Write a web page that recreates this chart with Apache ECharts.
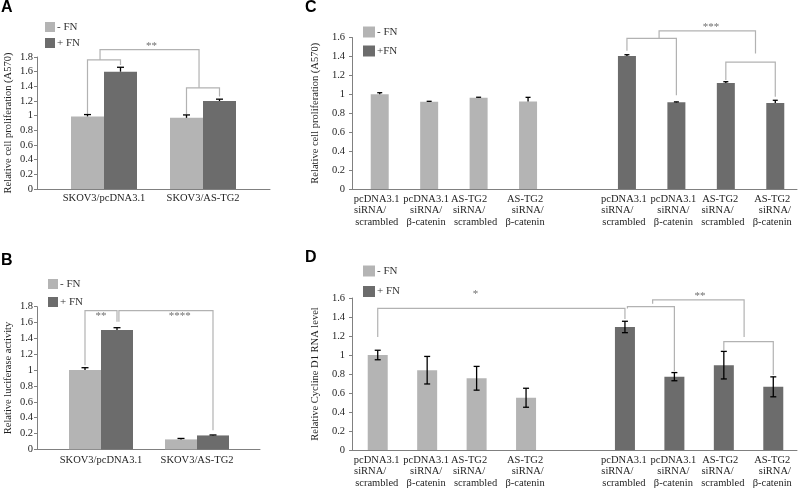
<!DOCTYPE html>
<html><head><meta charset="utf-8">
<script src="https://cdn.jsdelivr.net/npm/echarts@6/dist/echarts.min.js"></script>
<style>html,body{margin:0;padding:0;background:#fff}#c{width:800px;height:489px}</style>
</head><body><div id="c"></div>
<script>
// ---------- data ----------
const fnNames = ['- FN', '+ FN'];
const fnNamesC = ['- FN', '+FN'];
const abCategories = ['SKOV3/pcDNA3.1', 'SKOV3/AS-TG2'];
const aMinusFN = [0.99, 0.97];
const aMinusFNErr = [0.025, 0.04];
const aPlusFN = [1.60, 1.20];
const aPlusFNErr = [0.06, 0.025];
const bMinusFN = [1.00, 0.125];
const bMinusFNErr = [0.03, 0.012];
const bPlusFN = [1.505, 0.175];
const bPlusFNErr = [0.03, 0.006];
const cdCategories = [
  'pcDNA3.1\nsiRNA/     \nscrambled', 'pcDNA3.1\nsiRNA/\nβ-catenin', 'AS-TG2     \nsiRNA/     \nscrambled', 'AS-TG2\n  siRNA/\nβ-catenin', '',
  'pcDNA3.1\nsiRNA/     \nscrambled', 'pcDNA3.1\nsiRNA/\nβ-catenin', 'AS-TG2  \nsiRNA/    \nscrambled', 'AS-TG2\n  siRNA/\nβ-catenin'
];
const cdMinusSlots = [0, 1, 2, 3];
const cdPlusSlots = [5, 6, 7, 8];
const cMinusFN = [1.00, 0.922, 0.965, 0.925];
const cMinusFNErr = [0.017, 0.004, 0.004, 0.043];
const cPlusFN = [1.405, 0.915, 1.12, 0.907];
const cPlusFNErr = [0.013, 0.005, 0.013, 0.03];
const dMinusFN = [1.00, 0.84, 0.755, 0.55];
const dMinusFNErr = [0.05, 0.145, 0.125, 0.10];
const dPlusFN = [1.295, 0.772, 0.893, 0.665];
const dPlusFNErr = [0.06, 0.043, 0.145, 0.105];
const abTicks = [0, 0.2, 0.4, 0.6, 0.8, 1, 1.2, 1.4, 1.6, 1.8];
const cdTicks = [0, 0.2, 0.4, 0.6, 0.8, 1, 1.2, 1.4, 1.6];
// significance brackets: [fromSlot, fromBarSide, fromBottom, top, toSlot, toBarSide, toBottom]
const aBrackets = [[0, -1, 1.01, 1.76, 0, 1, 1.69], [1, -1, 1.02, 1.38, 1, 1, 1.26], [-0.04, 0, 1.76, 1.90, 0.96, 0, 1.38]];
const aSig = [[0.48, 1.98, '**']];
const bBrackets = [[0, -1, 1.06, 1.75, 0, 1, 1.61], [0.02, 1, 1.61, 1.75, 1, 1, 0.24]];
const bSig = [[0.0, 1.71, '**'], [0.82, 1.71, '****']];
const cBrackets = [[5, 0, 1.46, 1.59, 6, 0, 0.99], [7, 0, 1.15, 1.34, 8, 0, 0.975], [5.65, 0, 1.59, 1.67, 7.6, 0, 1.43]];
const cSig = [[6.7, 1.73, '***']];
const dBrackets = [[0, 0, 1.19, 1.49, 5, 0, 1.38], [5.05, 0, 1.49, 1.51, 6, 0, 0.83], [5.56, 0, 1.54, 1.58, 7.41, 0, 1.19], [7, 0, 1.05, 1.14, 8, 0, 0.79]];
const dSig = [[1.98, 1.66, '*'], [6.52, 1.64, '**']];

// ---------- styles ----------
const FONT = 'Liberation Serif';
const LIGHT = '#b4b4b4', DARK = '#6c6c6c';
const AX = '#808080', TXT = '#1e1e1e', BR = '#b2b2b2';

const grids = [], xAxes = [], yAxes = [], series = [], legends = [], titles = [];

function panel(p) {
  const n = p.cats.length;
  const gf = grids.length;
  grids.push({left: p.frame.left, top: p.frame.top, width: p.frame.width, height: p.frame.height});
  const gb = grids.length;
  grids.push({left: p.bars.left, top: p.frame.top, width: p.bars.width, height: p.frame.height});
  const catLabel = {interval: 0, fontFamily: FONT, fontSize: p.catFont, color: TXT, margin: p.catMargin, lineHeight: p.catLine};
  xAxes.push({type: 'category', gridIndex: gf, data: p.labelsOnBars ? p.cats.map(() => '') : p.cats,
    axisLine: {lineStyle: {color: AX, width: 1}}, axisTick: {interval: 0, length: 4, lineStyle: {color: AX}},
    axisLabel: Object.assign({show: !p.labelsOnBars}, catLabel), splitLine: {show: false}});
  const xb = xAxes.length;
  xAxes.push({type: 'category', gridIndex: gb, data: p.cats, axisLine: {show: false}, axisTick: {show: false},
    axisLabel: Object.assign({show: p.labelsOnBars}, catLabel), splitLine: {show: false}});
  const xv = xAxes.length;
  xAxes.push({type: 'value', gridIndex: gb, min: -0.5, max: n - 0.5, show: false});
  const ticks = p.ticks;
  yAxes.push({type: 'value', gridIndex: gf, min: ticks[0], max: ticks[ticks.length - 1], interval: ticks[1] - ticks[0],
    name: p.yName, nameLocation: 'middle', nameGap: p.nameGap, nameRotate: 90,
    nameTextStyle: {fontFamily: FONT, fontSize: 10.5, color: TXT},
    axisLine: {show: true, lineStyle: {color: AX, width: 1}}, axisTick: {show: true, length: 3, lineStyle: {color: AX}},
    axisLabel: {fontFamily: FONT, fontSize: 10.5, color: TXT, margin: p.yMargin, formatter: v => String(+v.toFixed(1))},
    splitLine: {show: false}});
  const yb = yAxes.length;
  yAxes.push({type: 'value', gridIndex: gb, min: ticks[0], max: ticks[ticks.length - 1], interval: ticks[1] - ticks[0], show: false});
  const hw = p.barWidth / 2;
  p.groups.forEach((g, gi) => {
    const full = new Array(n).fill(null);
    g.slots.forEach((s, k) => { full[s] = g.values[k]; });
    series.push({type: 'bar', name: g.name, xAxisIndex: xb, yAxisIndex: yb, data: full, barWidth: p.barWidth,
      barGap: p.side ? '0%' : '-100%', itemStyle: {color: g.color}, silent: true});
    const off = p.side ? (gi === 0 ? -hw : hw) : 0;
    series.push({type: 'custom', xAxisIndex: xv, yAxisIndex: yb, z: 5, silent: true,
      data: g.slots.map((s, k) => [s, g.values[k], g.errs[k]]),
      renderItem: (params, api) => {
        const x = api.value(0), v = api.value(1), e = api.value(2);
        const b = api.coord([x, v]);
        const t = api.coord([x, v + e]);
        const lo = p.errBoth ? api.coord([x, v - e]) : b;
        const cx = b[0] + off;
        const st = {stroke: '#000', lineWidth: 1.3};
        const ch = [
          {type: 'line', shape: {x1: cx, y1: t[1], x2: cx, y2: lo[1]}, style: st},
          {type: 'line', shape: {x1: cx - p.cap / 2, y1: t[1], x2: cx + p.cap / 2, y2: t[1]}, style: st}];
        if (p.errBoth) ch.push({type: 'line', shape: {x1: cx - p.cap / 2, y1: lo[1], x2: cx + p.cap / 2, y2: lo[1]}, style: st});
        return {type: 'group', children: ch};
      }});
  });
  series.push({type: 'custom', xAxisIndex: xv, yAxisIndex: yb, z: 4, silent: true, clip: false,
    data: p.brackets.map(b => [b[0], b[3]]),
    renderItem: (params, api) => {
      const b = p.brackets[params.dataIndex];
      const sw = p.side ? hw : 0;
      const x1 = api.coord([b[0], 0])[0] + b[1] * sw;
      const x2 = api.coord([b[4], 0])[0] + b[5] * sw;
      const y1 = api.coord([0, b[2]])[1], yt = api.coord([0, b[3]])[1], y2 = api.coord([0, b[6]])[1];
      return {type: 'polyline', shape: {points: [[x1, y1], [x1, yt], [x2, yt], [x2, y2]]},
        style: {stroke: BR, lineWidth: 1.2, fill: null}};
    }});
  series.push({type: 'custom', xAxisIndex: xv, yAxisIndex: yb, z: 6, silent: true, clip: false,
    data: p.sig.map(s => [s[0], s[1]]),
    renderItem: (params, api) => {
      const s = p.sig[params.dataIndex];
      const pt = api.coord([s[0], s[1]]);
      return {type: 'text', x: pt[0], y: pt[1] + 2,
        style: {text: s[2], fill: '#6f6f6f', font: '11px "Liberation Serif"', align: 'center', verticalAlign: 'middle'}};
    }});
  legends.push(Object.assign({orient: 'vertical', padding: 0, icon: 'rect', selectedMode: false,
    data: p.groups.map(g => g.name),
    textStyle: {fontFamily: FONT, fontSize: 11, color: '#333', padding: [0, 0, 0, -3]}}, p.legend));
  titles.push({text: p.letter, left: p.letterPos[0], top: p.letterPos[1], padding: 0,
    textStyle: {fontFamily: 'Liberation Sans', fontWeight: 'bold', fontSize: 16, color: '#000'}});
}

panel({letter: 'A', letterPos: [1, 0], cats: abCategories, labelsOnBars: true, side: true, ticks: abTicks,
  frame: {left: 37, top: 57, width: 233, height: 132}, bars: {left: 54.5, width: 198},
  barWidth: 33, cap: 7, errBoth: false, catFont: 10.5, catLine: 12, catMargin: 3, yMargin: 4, nameGap: 23,
  yName: 'Relative cell proliferation (A570)',
  groups: [{name: fnNames[0], color: LIGHT, slots: [0, 1], values: aMinusFN, errs: aMinusFNErr},
           {name: fnNames[1], color: DARK, slots: [0, 1], values: aPlusFN, errs: aPlusFNErr}],
  brackets: aBrackets, sig: aSig,
  legend: {left: 45, top: 21.5, itemWidth: 10, itemHeight: 10, itemGap: 5}});

panel({letter: 'B', letterPos: [1, 253], cats: abCategories, labelsOnBars: true, side: true, ticks: abTicks,
  frame: {left: 37, top: 306.7, width: 223, height: 142.6}, bars: {left: 53, width: 192},
  barWidth: 32, cap: 7, errBoth: false, catFont: 10.5, catLine: 12, catMargin: 5, yMargin: 4, nameGap: 23,
  yName: 'Relative luciferase activity',
  groups: [{name: fnNames[0], color: LIGHT, slots: [0, 1], values: bMinusFN, errs: bMinusFNErr},
           {name: fnNames[1], color: DARK, slots: [0, 1], values: bPlusFN, errs: bPlusFNErr}],
  brackets: bBrackets, sig: bSig,
  legend: {left: 48, top: 278.5, itemWidth: 10, itemHeight: 10, itemGap: 7}});

panel({letter: 'C', letterPos: [305, 0], cats: cdCategories, labelsOnBars: false, side: false, ticks: cdTicks,
  frame: {left: 352, top: 37.5, width: 445, height: 151.5}, bars: {left: 355, width: 445},
  barWidth: 18, cap: 5, errBoth: false, catFont: 10.5, catLine: 11.5, catMargin: 4, yMargin: 7, nameGap: 31,
  yName: 'Relative cell proliferation (A570)',
  groups: [{name: fnNamesC[0], color: LIGHT, slots: cdMinusSlots, values: cMinusFN, errs: cMinusFNErr},
           {name: fnNamesC[1], color: DARK, slots: cdPlusSlots, values: cPlusFN, errs: cPlusFNErr}],
  brackets: cBrackets, sig: cSig,
  legend: {left: 363, top: 26.5, itemWidth: 12, itemHeight: 11, itemGap: 8}});

panel({letter: 'D', letterPos: [305, 250], cats: cdCategories, labelsOnBars: false, side: false, ticks: cdTicks,
  frame: {left: 352, top: 298, width: 445, height: 152}, bars: {left: 353, width: 445},
  barWidth: 20, cap: 6, errBoth: true, catFont: 10.5, catLine: 11.5, catMargin: 4, yMargin: 7, nameGap: 31,
  yName: 'Relative Cycline D1 RNA level',
  groups: [{name: fnNames[0], color: LIGHT, slots: cdMinusSlots, values: dMinusFN, errs: dMinusFNErr},
           {name: fnNames[1], color: DARK, slots: cdPlusSlots, values: dPlusFN, errs: dPlusFNErr}],
  brackets: dBrackets, sig: dSig,
  legend: {left: 363, top: 265.5, itemWidth: 12, itemHeight: 11, itemGap: 9.5}});

const chart = echarts.init(document.getElementById('c'), null, {renderer: 'canvas'});
chart.setOption({
  animation: false,
  backgroundColor: '#fff',
  textStyle: {fontFamily: FONT},
  title: titles, legend: legends, grid: grids, xAxis: xAxes, yAxis: yAxes, series: series
});
</script>
</body></html>
